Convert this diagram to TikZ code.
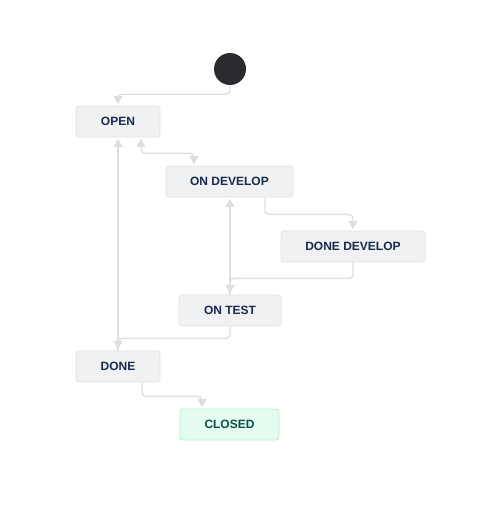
\documentclass[tikz,border=0pt]{standalone}
\usepackage{fontspec}
\setmainfont{Liberation Sans}
\usetikzlibrary{arrows.meta}
\definecolor{boxfill}{HTML}{F0F1F3}
\definecolor{boxline}{HTML}{DFE1E6}
\definecolor{txtdark}{HTML}{172B4D}
\definecolor{startfill}{HTML}{2A2B2F}
\definecolor{flowline}{HTML}{DCDEE2}
\definecolor{closedfill}{HTML}{E3FCEF}
\definecolor{closedline}{HTML}{ABF5D1}
\definecolor{closedtxt}{HTML}{0B4F45}
\tikzset{
  state/.style={draw=boxline, fill=boxfill, rounded corners=3pt, line width=0.8pt,
    minimum height=31pt, inner sep=0pt, text=txtdark,
    font=\fontsize{12}{14}\selectfont\bfseries},
  flow/.style={draw=flowline, line width=1.4pt, rounded corners=4pt,
    -{Triangle[length=8pt,width=9pt]}, shorten >=1.5pt},
}
\begin{document}
\begin{tikzpicture}[x=1pt, y=-1pt]
    \useasboundingbox (0,0) rectangle (480,509);

    % Start
    \node[circle, fill=startfill, minimum size=32pt, inner sep=0pt] (start) at (230,69) {};

    % States
    \node[state, minimum width=84pt] (open) at (118,121.5) {OPEN};
    \node[state, minimum width=127pt] (ondev) at (229.5,181.5) {ON DEVELOP};
    \node[state, minimum width=144pt] (donedev) at (353,246.5) {DONE DEVELOP};
    \node[state, minimum width=102pt] (ontest) at (230,310.5) {ON TEST};
    \node[state, minimum width=84pt] (done) at (118,366.5) {DONE};
    \node[state, minimum width=99pt, fill=closedfill, draw=closedline, text=closedtxt] (closed) at (229.5,424.5) {CLOSED};

    % Transitions
    \draw[flow] (start.south) -- ++(0,9) -| (open.north);
    \draw[flow, {Triangle[length=8pt,width=9pt]}-{Triangle[length=8pt,width=9pt]}, shorten <=1.5pt]
      ([xshift=23pt]open.south) -- ++(0,16) -| ([xshift=-35.5pt]ondev.north);
    \draw[flow] ([xshift=35.5pt]ondev.south) -- ++(0,17) -| (donedev.north);
    \draw[flow] (donedev.south) -- ++(0,16) -| (ontest.north);
    \draw[flow] (ontest.north) -- (ontest.north |- ondev.south);
    \draw[flow] (ontest.south) -- ++(0,12) -| (done.north);
    \draw[flow] (done.north) -- (open.south);
    \draw[flow] ([xshift=24pt]done.south) -- ++(0,14) -| ([xshift=-27.5pt]closed.north);
\end{tikzpicture}
\end{document}
